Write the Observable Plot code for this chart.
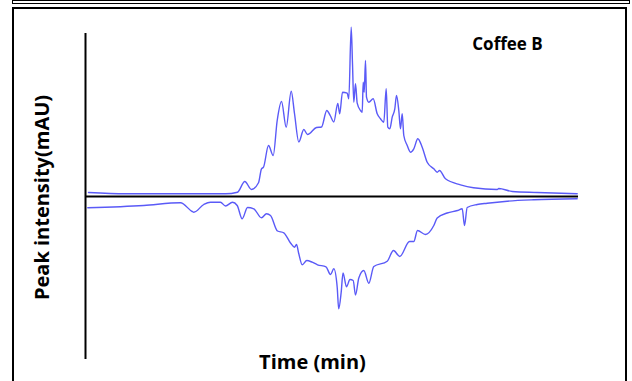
<!DOCTYPE html>
<html>
<head>
<meta charset="utf-8">
<script src="https://cdn.jsdelivr.net/npm/d3@7"></script>
<script src="https://cdn.jsdelivr.net/npm/@observablehq/plot@0.6"></script>
<style>
  html, body { margin: 0; padding: 0; background: #fff; }
  #wrap { position: relative; width: 632px; height: 381px; overflow: hidden; }
  #wrap svg { position: absolute; left: 0; top: 0; }
  .strip { position: absolute; left: 12px; top: 0px; width: 616px; height: 2px; border: 1px solid #000; }
  .panel { position: absolute; left: 12px; top: 7px; width: 611px; height: 400px; border: 2px solid #000; }
</style>
</head>
<body>
<div id="wrap">
  <div class="strip"></div>
  <div class="panel"></div>
</div>
<script>
// Upper chromatogram (time in arbitrary minutes units, intensity in mAU-like units)
const upperTime = [3, 40, 140, 152, 159.3, 166, 173, 176, 178, 183, 187.7, 191.7, 196, 200.7, 205.7, 209, 213.3, 218.3, 222, 231, 236, 241.3, 244.7, 248.3, 252.3, 254.2, 257, 261.7, 263.3, 265.7, 267, 268.3, 270, 271.7, 275, 276.7, 277.7, 278.7, 280, 281, 283.3, 287.7, 291.7, 295, 298.3, 300.7, 302.3, 304.3, 306.7, 309.3, 311, 313.3, 315, 316.7, 318.3, 321.7, 325, 328.3, 332.3, 336.7, 341.7, 348.3, 351.7, 354, 360, 375, 388, 411.7, 413.3, 426.7, 451.7, 491.7];
const upperIntensity = [4, 2.7, 2.7, 4.3, 15, 7, 13.7, 27.7, 29.3, 51, 41, 76, 95, 69.3, 105.3, 83, 54.5, 67, 62, 69, 69.5, 86, 81, 74.5, 93, 82.7, 104.3, 103.3, 97.7, 169.3, 132.7, 94.3, 112.7, 93.3, 86, 84.3, 114.3, 104.3, 136, 99.3, 94.3, 97.7, 82.7, 77.7, 74.3, 107.7, 69.3, 67.7, 79.3, 87.7, 101, 86, 67.7, 82.7, 61, 51, 44.3, 47.7, 57.7, 49.3, 34.3, 27.7, 24.3, 26, 17.7, 11.7, 8.7, 7, 8, 5, 4, 2.7];

// Lower (mirrored) chromatogram
const lowerTime = [2.3, 58.3, 95, 106.7, 108.3, 118.3, 125, 135, 140, 147, 151.7, 156.7, 162, 168.3, 176, 181, 185, 192, 198.3, 205, 209, 211, 213.3, 216.7, 221.3, 226.7, 232, 240.5, 245, 248.3, 251.7, 253.2, 255.7, 257.5, 261, 264.5, 267.7, 270, 273.3, 278.3, 283.3, 288.3, 301.7, 308, 314.3, 324, 328.3, 332, 340, 348.3, 351.7, 361.7, 372, 376.7, 379, 381.7, 391.7, 401.7, 421.7, 448.3, 491.7];
const lowerIntensity = [-11.3, -9, -6.3, -15, -15.7, -8, -5.7, -5.7, -9.5, -5.8, -9, -22.3, -11, -12.3, -21.3, -17.3, -19, -34.5, -36.3, -46.5, -50.7, -48, -57.3, -68.3, -64, -65.7, -68.3, -70.3, -78, -72.3, -90.7, -112.3, -95.7, -76.5, -90.3, -83, -84, -98.5, -81.5, -74, -86.7, -70, -64.7, -54, -60, -45, -45, -34, -38, -29, -21.5, -16.5, -14, -12.3, -29, -11, -8, -6.7, -4.7, -3.3, -2.3];

const seriesLabel = "Coffee B";
const xLabel = "Time (min)";
const yLabel = "Peak intensity(mAU)";

const upper = upperTime.map((t, i) => ({t, v: upperIntensity[i]}));
const lower = lowerTime.map((t, i) => ({t, v: lowerIntensity[i]}));

const font = "'Open Sans', 'Noto Sans', sans-serif";
const traceColor = "#5a5af7";

const chart = Plot.plot({
  width: 632,
  height: 381,
  marginLeft: 85,
  marginRight: 54,
  marginTop: 33,
  marginBottom: 22,
  x: {domain: [0, 493], axis: null},
  y: {domain: [-163, 163], axis: null},
  style: {fontFamily: font, background: "transparent", overflow: "visible"},
  marks: [
    Plot.line(upper, {x: "t", y: "v", stroke: traceColor, strokeWidth: 1.4, curve: "monotone-x"}),
    Plot.line(lower, {x: "t", y: "v", stroke: traceColor, strokeWidth: 1.4, curve: "monotone-x"}),
    Plot.ruleY([0], {stroke: "#000", strokeWidth: 2}),
    Plot.ruleX([0], {stroke: "#000", strokeWidth: 2}),
    Plot.text([seriesLabel], {frameAnchor: "top-left", dx: 422, dy: 11, text: d => d, textAnchor: "middle", lineAnchor: "middle", fontSize: 17, fontWeight: "bold", fill: "#000"}),
    Plot.text([xLabel], {frameAnchor: "bottom", dx: -19.5, dy: 3, text: d => d, textAnchor: "middle", lineAnchor: "middle", fontSize: 20, fontWeight: "bold", fill: "#000"}),
    Plot.text([yLabel], {frameAnchor: "left", dx: -43, dy: 1, text: d => d, rotate: -90, textAnchor: "middle", lineAnchor: "middle", fontSize: 20, fontWeight: "bold", fill: "#000"})
  ]
});
document.getElementById("wrap").appendChild(chart);
</script>
</body>
</html>
